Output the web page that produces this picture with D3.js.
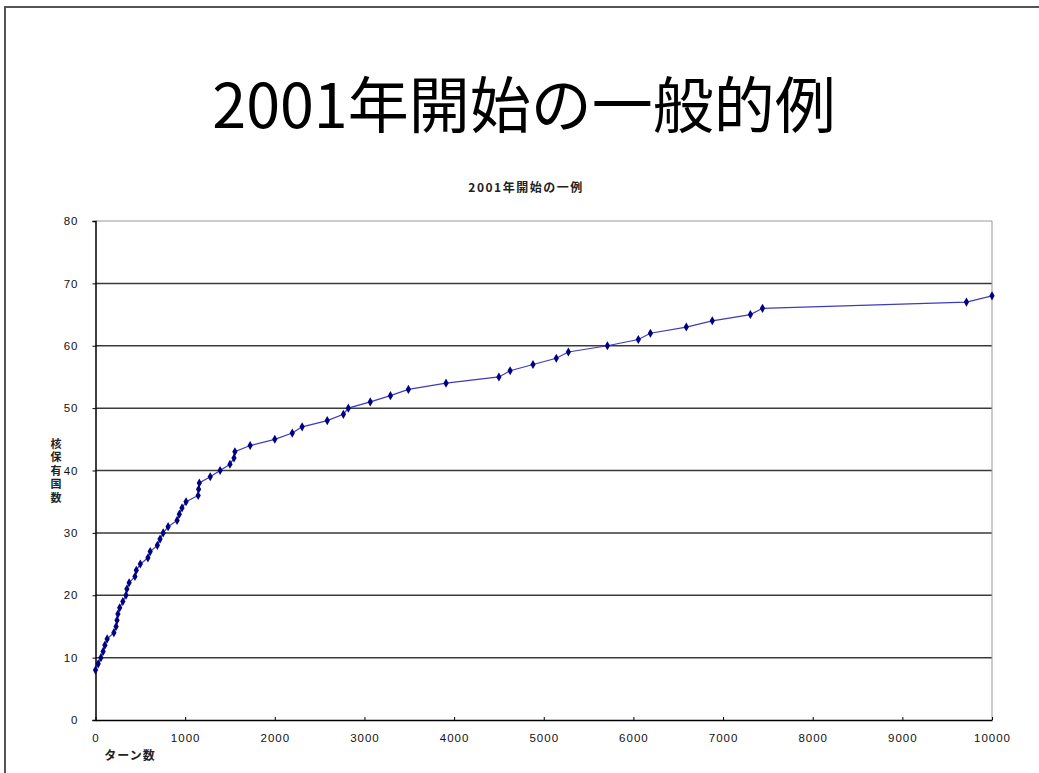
<!DOCTYPE html>
<html>
<head>
<meta charset="utf-8">
<script src="https://cdn.jsdelivr.net/npm/d3@7"></script>
<style>
  body { margin: 0; background: #fff; }
  svg { display: block; }
  .tick text { font-family: "Liberation Sans", Arial, sans-serif; font-size: 11.5px; fill: #111; letter-spacing: 1px; }
</style>
</head>
<body>
<svg id="chart" width="1039" height="773"></svg>
<script>
const TITLE = "2001年開始の一般的例";
const SUBTITLE = "2001年開始の一例";
const X_LABEL = "ターン数";
const Y_LABEL = "核保有国数";

// turn number at which each count was reached
const turns = [0, 30, 60, 85, 105, 130, 205, 230, 240, 250, 270, 305, 340, 350, 375,
  440, 455, 500, 585, 610, 690, 720, 755, 810, 910, 935, 965, 1010, 1145, 1150, 1158,
  1280, 1390, 1500, 1545, 1555, 1725, 2000, 2195, 2305, 2585, 2765, 2820, 3065, 3290,
  3490, 3910, 4500, 4625, 4880, 5140, 5275, 5710, 6055, 6190, 6590, 6880, 7305, 7440,
  9715, 10000];
const counts = [8, 9, 10, 11, 12, 13, 14, 15, 16, 17, 18, 19, 20, 21, 22,
  23, 24, 25, 26, 27, 28, 29, 30, 31, 32, 33, 34, 35, 36, 37, 38,
  39, 40, 41, 42, 43, 44, 45, 46, 47, 48, 49, 50, 51, 52,
  53, 54, 55, 56, 57, 58, 59, 60, 61, 62, 63, 64, 65, 66,
  67, 68];

const xTicks = [0, 1000, 2000, 3000, 4000, 5000, 6000, 7000, 8000, 9000, 10000];
const yTicks = [0, 10, 20, 30, 40, 50, 60, 70, 80];

const svg = d3.select("#chart");

// slide frame (top + left edges visible)
svg.append("path")
  .attr("d", "M5,1039 L5,7 L1039,7")
  .attr("fill", "none")
  .attr("stroke", "#555")
  .attr("stroke-width", 2);

svg.append("text")
  .attr("x", 524).attr("y", 128)
  .attr("text-anchor", "middle")
  .style("font-family", "'Noto Sans CJK JP', sans-serif")
  .style("font-size", "61px")
  .attr("fill", "#000")
  .text(TITLE);

svg.append("text")
  .attr("x", 526).attr("y", 192)
  .attr("text-anchor", "middle")
  .style("font-family", "'Noto Sans CJK JP', sans-serif")
  .style("font-size", "12px")
  .style("letter-spacing", "1.5px")
  .style("font-weight", "bold")
  .attr("fill", "#222")
  .text(SUBTITLE);

const x = d3.scaleLinear().domain([0, 10000]).range([95.5, 992]);
const y = d3.scaleLinear().domain([0, 80]).range([720, 221]);

// gridlines
svg.append("g")
  .selectAll("line").data(yTicks.filter(d => d > 0)).enter().append("line")
  .attr("x1", x(0)).attr("x2", x(10000))
  .attr("y1", d => y(d)).attr("y2", d => y(d))
  .attr("stroke", d => d === 80 ? "#999" : "#3a3a3a")
  .attr("stroke-width", d => d === 80 ? 1 : 1.5);

// right edge of plot area
svg.append("line")
  .attr("x1", x(10000)).attr("x2", x(10000))
  .attr("y1", y(80)).attr("y2", y(0))
  .attr("stroke", "#999").attr("stroke-width", 1);

// y axis
const yAxis = svg.append("g")
  .attr("transform", `translate(${x(0)},0)`)
  .call(d3.axisLeft(y).tickValues(yTicks).tickSize(3).tickPadding(14));
yAxis.select(".domain").attr("stroke", "#000").attr("stroke-width", 1.5);
yAxis.selectAll(".tick line").attr("stroke", "#000");

// x axis
const xAxis = svg.append("g")
  .attr("transform", `translate(0,${y(0)})`)
  .call(d3.axisBottom(x).tickValues(xTicks).tickFormat(d3.format("d"))
    .tickSizeInner(-3).tickSizeOuter(0).tickPadding(14));
xAxis.select(".domain").attr("stroke", "#000").attr("stroke-width", 1.5);
xAxis.selectAll(".tick line").attr("stroke", "#000");

svg.append("text")
  .attr("x", 130).attr("y", 760)
  .attr("text-anchor", "middle")
  .style("font-family", "'Noto Sans CJK JP', sans-serif")
  .style("font-size", "12px")
  .style("letter-spacing", "1px")
  .style("font-weight", "bold")
  .attr("fill", "#222")
  .text(X_LABEL);

// stacked (vertical) y axis title
svg.append("text")
  .attr("x", 56).attr("y", 472)
  .attr("text-anchor", "middle")
  .style("writing-mode", "vertical-rl")
  .style("font-family", "'Noto Sans CJK JP', sans-serif")
  .style("font-size", "11px")
  .style("letter-spacing", "2.5px")
  .style("font-weight", "bold")
  .attr("fill", "#222")
  .text(Y_LABEL);

const data = turns.map((t, i) => ({ t, v: counts[i] }));

svg.append("path")
  .datum(data)
  .attr("fill", "none")
  .attr("stroke", "#3c3cbc")
  .attr("stroke-width", 1.2)
  .attr("d", d3.line().x(d => x(d.t)).y(d => y(d.v)));

svg.append("g").selectAll("path").data(data).enter().append("path")
  .attr("transform", d => `translate(${x(d.t)},${y(d.v)})`)
  .attr("d", d3.symbol(d3.symbolDiamond, 24))
  .attr("fill", "#000080");
</script>
</body>
</html>
